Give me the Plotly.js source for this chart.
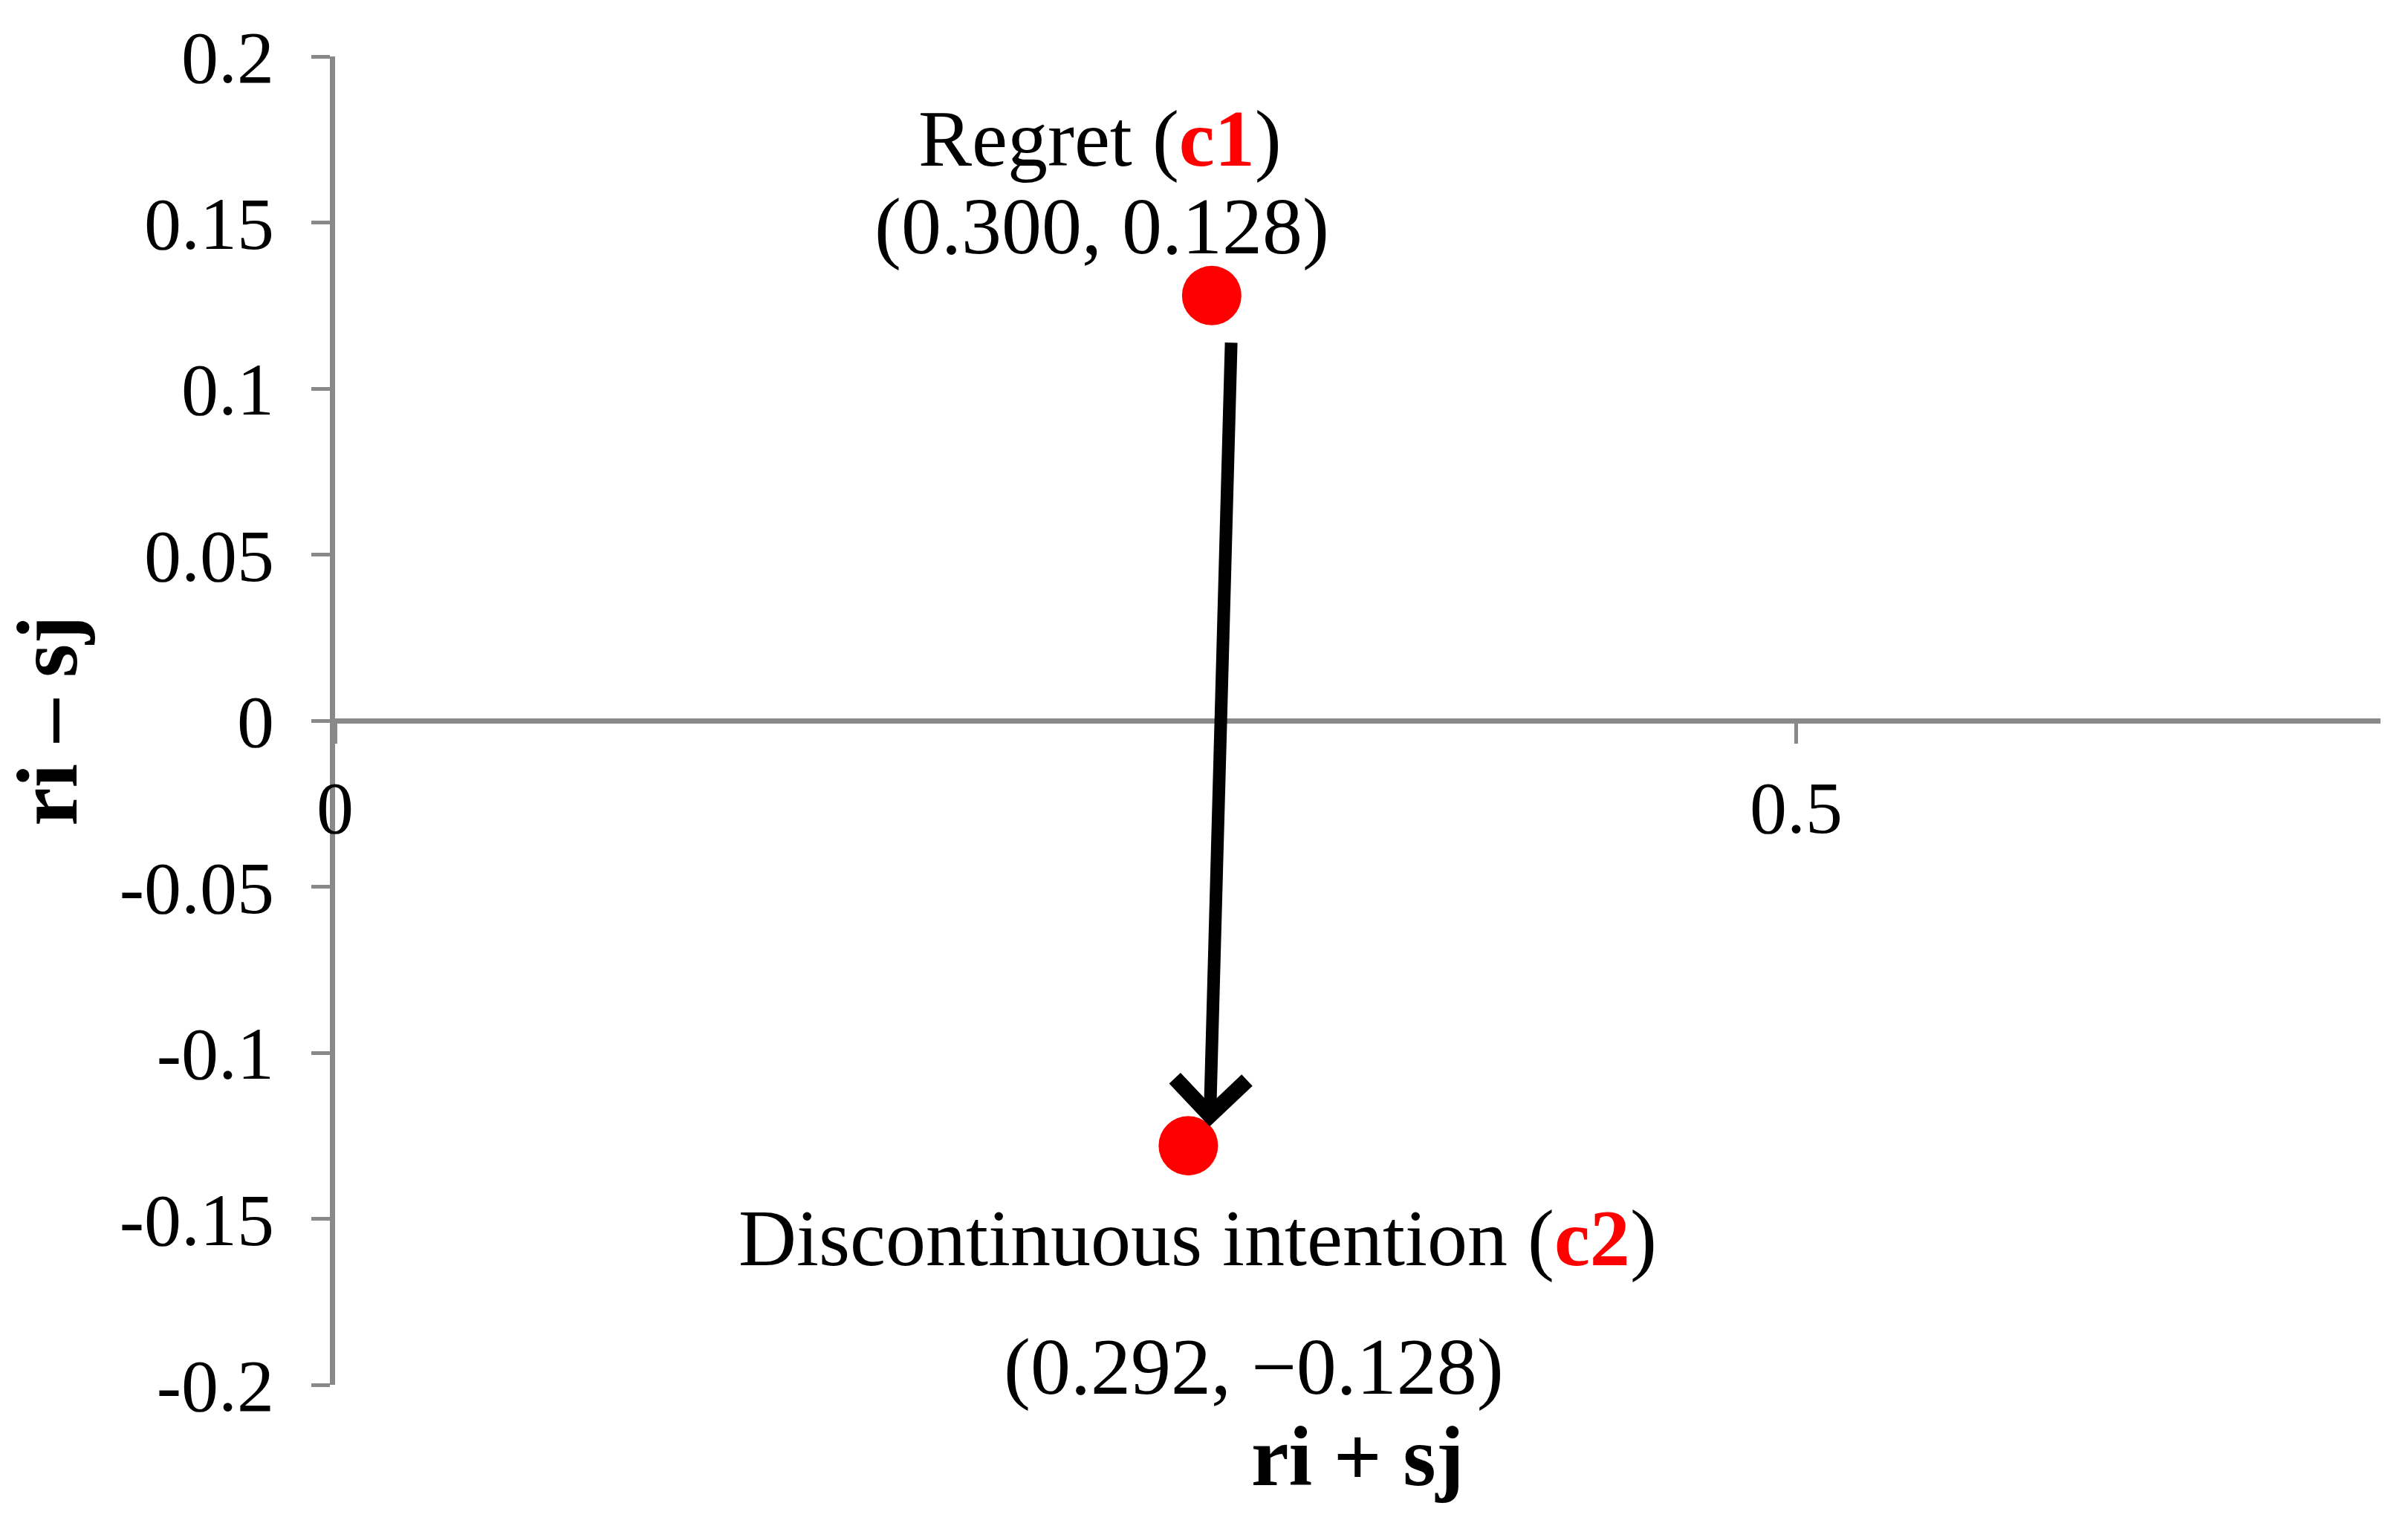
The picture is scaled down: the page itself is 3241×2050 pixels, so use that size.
<!DOCTYPE html>
<html>
<head>
<meta charset="utf-8">
<script src="https://cdn.plot.ly/plotly-3.0.1.min.js"></script>
<style>
  html, body { margin: 0; padding: 0; background: #ffffff; }
  #chart { width: 3241px; height: 2050px; }
</style>
</head>
<body>
<div id="chart"></div>
<script>
// two constructs on the (ri + sj, ri - sj) plane
const pointNames = ["Regret", "Discontinuous intention"];
const pointCodes = ["c1", "c2"];
const pointX = [0.300, 0.292];
const pointY = [0.128, -0.128];

const xTickVals = [0, 0.5];
const xTickText = ["0", "0.5"];
const yTickVals = [0.2, 0.15, 0.1, 0.05, 0, -0.05, -0.1, -0.15, -0.2];
const yTickText = ["0.2", "0.15", "0.1", "0.05", "0", "-0.05", "-0.1", "-0.15", "-0.2"];

const RED = "#ff0000";
const AXIS_GRAY = "#898989";
const FONT = "Liberation Serif, Times New Roman, serif";

// label offsets (px) from each point: [name line, coordinate line]
const labelShift = [
  [{ x: -150, y: 211 }, { x: -148, y: 93 }],
  [{ x: 13, y: -125 }, { x: 88, y: -298 }],
];

function fmt(v) {
  const s = Math.abs(v).toFixed(3);
  return v < 0 ? "\u2212" + s : s;
}

const trace = {
  x: pointX,
  y: pointY,
  type: "scatter",
  mode: "markers",
  marker: { color: RED, size: 80 },
  cliponaxis: false,
  hoverinfo: "skip",
};

const annotations = [];
pointX.forEach((x, i) => {
  const y = pointY[i];
  annotations.push({
    x, y, xref: "x", yref: "y", showarrow: false,
    xshift: labelShift[i][0].x, yshift: labelShift[i][0].y,
    text: `${pointNames[i]} (<b><span style="color:${RED}">${pointCodes[i]}</span></b>)`,
    font: { family: FONT, size: 108, color: "#000000" },
  });
  annotations.push({
    x, y, xref: "x", yref: "y", showarrow: false,
    xshift: labelShift[i][1].x, yshift: labelShift[i][1].y,
    text: `(${fmt(x)}, ${fmt(y)})`,
    font: { family: FONT, size: 108, color: "#000000" },
    borderpad: 0,
  });
});

// arrow c1 -> c2
annotations.push({
  x: pointX[1], y: pointY[1], xref: "x", yref: "y",
  ax: pointX[0], ay: pointY[0], axref: "x", ayref: "y",
  text: "", showarrow: true,
  arrowhead: 4, arrowsize: 1.1, arrowwidth: 17, arrowcolor: "#000000",
  standoff: 26, startstandoff: 62, xshift: 28,
});

// x-axis title sits at the bottom of the figure, not next to the axis
annotations.push({
  x: 0.5, y: -0.054, xref: "paper", yref: "paper", showarrow: false,
  xanchor: "center", yanchor: "middle", borderpad: 0,
  text: "<b>ri + sj</b>",
  font: { family: FONT, size: 114, color: "#000000" },
});

const layout = {
  width: 3241,
  height: 2050,
  paper_bgcolor: "#ffffff",
  plot_bgcolor: "#ffffff",
  font: { family: FONT, color: "#000000", size: 100 },
  margin: { l: 451, r: 37, t: 76, b: 186 },
  showlegend: false,
  xaxis: {
    range: [0, 0.7],
    anchor: "free",
    position: 0.5,
    tickvals: xTickVals,
    ticktext: xTickText,
    ticks: "outside",
    ticklen: 27,
    tickwidth: 5,
    tickcolor: AXIS_GRAY,
    ticklabelstandoff: 0,
    showline: true,
    linecolor: AXIS_GRAY,
    linewidth: 7,
    showgrid: false,
    zeroline: false,
    tickfont: { family: FONT, size: 100, color: "#000000" },
  },
  yaxis: {
    range: [-0.2, 0.2],
    tickvals: yTickVals,
    ticktext: yTickText,
    ticks: "outside",
    ticklen: 25,
    tickwidth: 5,
    tickcolor: AXIS_GRAY,
    ticklabelstandoff: 30,
    showline: true,
    linecolor: AXIS_GRAY,
    linewidth: 7,
    showgrid: false,
    zeroline: false,
    tickfont: { family: FONT, size: 100, color: "#000000" },
    title: {
      text: "<b>ri \u2013 sj</b>",
      font: { family: FONT, size: 116, color: "#000000" },
      standoff: 40,
    },
  },
  annotations,
};

Plotly.newPlot("chart", [trace], layout, { displayModeBar: false, staticPlot: true });
</script>
</body>
</html>
